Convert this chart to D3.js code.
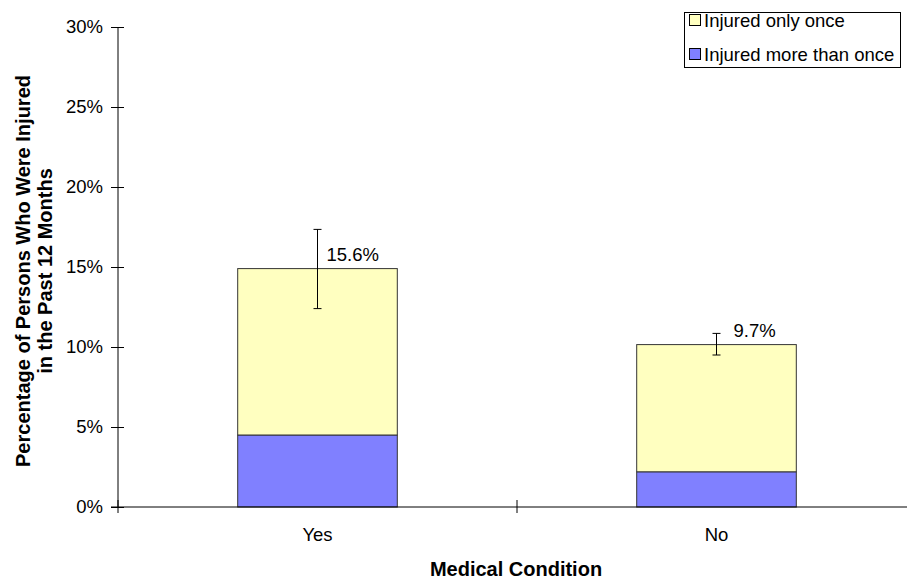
<!DOCTYPE html>
<html><head><meta charset="utf-8">
<script src="https://cdn.jsdelivr.net/npm/d3@7"></script>
<style>body{margin:0;background:#fff}svg{display:block;font-family:"Liberation Sans",Arial,sans-serif}</style>
</head><body><svg id="c" width="907" height="580"></svg>
<script>
const categories = ["Yes", "No"];
const onceMore = [4.5, 2.2];        // Injured more than once (%)
const onceOnly = [10.4, 7.95];      // Injured only once (%)
const totalLabel = ["15.6%", "9.7%"];
const errLow = [12.4, 9.5];
const errHigh = [17.35, 10.85];
const yTicks = [0, 5, 10, 15, 20, 25, 30];
const seriesNames = ["Injured only once", "Injured more than once"];
const seriesColors = ["#FFFFC0", "#8080FF"];

const FS = 18.5;
const svg = d3.select("#c");
const y = d3.scaleLinear().domain([0, 30]).range([507, 27]);
const x = d3.scaleBand().domain(categories).range([118, 916]).paddingInner(0.6).paddingOuter(0.3);

// y axis
const yAxis = d3.axisLeft(y).tickValues(yTicks).tickFormat(d => d + "%").tickSize(6).tickSizeOuter(0);
const gy = svg.append("g").attr("transform", "translate(118,0)").call(yAxis);
gy.select(".domain").remove();
gy.selectAll(".tick line").attr("x1", -7).attr("x2", 6).attr("stroke", "#000");
gy.selectAll(".tick text").attr("x", -15).attr("font-size", FS).attr("font-family", "Liberation Sans, Arial").attr("fill", "#000");
svg.append("line").attr("x1", 118).attr("x2", 118).attr("y1", 27).attr("y2", 507).attr("stroke", "#000");

// bars
const stackData = categories.map((c, i) => ({cat: c, more: onceMore[i], only: onceOnly[i]}));
const stack = d3.stack().keys(["more", "only"])(stackData);
const colorOf = {more: seriesColors[1], only: seriesColors[0]};
stack.forEach(layer => {
  svg.append("g").selectAll("rect").data(layer).join("rect")
    .attr("x", d => x(d.data.cat))
    .attr("width", x.bandwidth())
    .attr("y", d => y(d[1]))
    .attr("height", d => y(d[0]) - y(d[1]))
    .attr("fill", colorOf[layer.key])
    .attr("stroke", "#333").attr("stroke-width", 1);
});

// x axis line & category ticks
svg.append("line").attr("x1", 111).attr("x2", 907).attr("y1", 507).attr("y2", 507).attr("stroke", "#000");
const bounds = [x.range()[0], x.range()[0] + x.step(), x.range()[0] + 2 * x.step()];
svg.selectAll(".ctick").data(bounds).join("line")
  .attr("x1", d => d).attr("x2", d => d).attr("y1", 500).attr("y2", 513).attr("stroke", "#000");
svg.selectAll(".clab").data(categories).join("text")
  .attr("x", d => x(d) + x.bandwidth() / 2).attr("y", 541)
  .attr("text-anchor", "middle").attr("font-size", FS).text(d => d);

// error bars
categories.forEach((c, i) => {
  const cx = x(c) + x.bandwidth() / 2;
  const g = svg.append("g").attr("stroke", "#000");
  g.append("line").attr("x1", cx).attr("x2", cx).attr("y1", y(errLow[i])).attr("y2", y(errHigh[i]));
  g.append("line").attr("x1", cx - 4).attr("x2", cx + 4).attr("y1", y(errLow[i])).attr("y2", y(errLow[i]));
  g.append("line").attr("x1", cx - 4).attr("x2", cx + 4).attr("y1", y(errHigh[i])).attr("y2", y(errHigh[i]));
});

// value labels
const labelDx = [9, 17];
categories.forEach((c, i) => {
  svg.append("text").attr("x", x(c) + x.bandwidth() / 2 + labelDx[i])
    .attr("y", y(onceMore[i] + onceOnly[i]) - 8)
    .attr("font-size", FS).text(totalLabel[i]);
});

// axis titles
svg.append("text").attr("x", 516).attr("y", 576).attr("text-anchor", "middle")
  .attr("font-size", 20).attr("font-weight", "bold").text("Medical Condition");
const yt = svg.append("text").attr("transform", "translate(0,271) rotate(-90)")
  .attr("text-anchor", "middle").attr("font-size", 20).attr("font-weight", "bold");
yt.append("tspan").attr("x", 0).attr("y", 30).text("Percentage of Persons Who Were Injured");
yt.append("tspan").attr("x", 0).attr("y", 52).text("in the Past 12 Months");

// legend
const lg = svg.append("g");
lg.append("rect").attr("x", 684.5).attr("y", 12.5).attr("width", 216).attr("height", 55)
  .attr("fill", "#fff").attr("stroke", "#000");
seriesNames.forEach((n, i) => {
  const yy = 27 + i * 34;
  lg.append("rect").attr("x", 689.5).attr("y", yy - 12.5).attr("width", 11).attr("height", 11)
    .attr("fill", seriesColors[i]).attr("stroke", "#000");
  lg.append("text").attr("x", 704).attr("y", yy).attr("font-size", FS).text(n);
});
</script></body></html>
